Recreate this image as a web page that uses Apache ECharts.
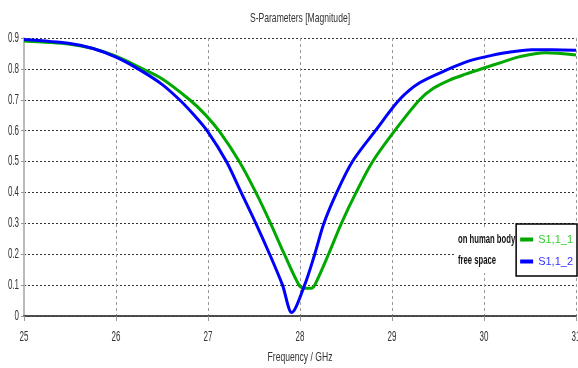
<!DOCTYPE html>
<html>
<head>
<meta charset="utf-8">
<script src="https://cdn.jsdelivr.net/npm/echarts@6/dist/echarts.min.js"></script>
<style>html,body{margin:0;padding:0;background:#fff}#c{width:578px;height:368px}</style>
</head>
<body>
<div id="c"></div>
<script>
const xTicks = [25, 26, 27, 28, 29, 30, 31];
const yTicks = [0, 0.1, 0.2, 0.3, 0.4, 0.5, 0.6, 0.7, 0.8, 0.9];
const titleText = 'S-Parameters [Magnitude]';
const xAxisName = 'Frequency / GHz';
const seriesNames = ['S1,1_1', 'S1,1_2'];
const seriesLabels = ['on human body', 'free space'];
const freqBody = [25.0,25.5,25.75,26.0,26.29,26.5,26.8,26.97,27.13,27.34,27.52,27.68,27.83,27.99,28.05,28.12,28.16,28.31,28.45,28.61,28.79,29.03,29.3,29.45,29.62,29.8,30.0,30.2,30.38,30.67,31.0];
const s11Body  = [0.89,0.88,0.866,0.841,0.80,0.768,0.70,0.652,0.595,0.50,0.40,0.30,0.20,0.10,0.09,0.09,0.10,0.20,0.30,0.40,0.50,0.60,0.70,0.737,0.763,0.783,0.803,0.822,0.839,0.852,0.845];
const freqFree = [25.0,25.5,25.75,26.0,26.24,26.5,26.69,26.85,26.99,27.2,27.36,27.52,27.67,27.81,27.91,28.05,28.16,28.26,28.40,28.57,28.82,29.08,29.3,29.62,29.8,30.0,30.25,30.52,30.75,31.0];
const s11Free  = [0.895,0.882,0.866,0.838,0.80,0.75,0.70,0.65,0.60,0.50,0.40,0.30,0.20,0.10,0.011,0.10,0.20,0.30,0.40,0.50,0.60,0.70,0.755,0.80,0.822,0.838,0.853,0.862,0.862,0.86];
const colors = ['#00A800', '#0000FF'];
const legendTextColors = ['#33CC33', '#3333FF'];

const FAM = "'Liberation Sans', Arial, sans-serif";
const chart = echarts.init(document.getElementById('c'));
const pairs = (xs, ys) => xs.map((x, i) => [x, ys[i]]);
chart.setOption({
  animation: false,
  backgroundColor: '#fff',
  grid: { left: 24, right: 2, top: 38, bottom: 52, outerBoundsMode: 'none' },
  xAxis: [{
    type: 'value', min: xTicks[0], max: xTicks[xTicks.length - 1], interval: 1,
    axisLine: { onZero: false, lineStyle: { color: '#000', width: 1.5 } },
    axisTick: { show: true, length: 5, lineStyle: { color: '#999' } },
    axisLabel: { show: false },
    splitLine: { show: true, lineStyle: { color: '#999', type: [3, 3], width: 1 } }
  }, {
    type: 'value', position: 'top', min: xTicks[0], max: xTicks[xTicks.length - 1],
    axisLine: { lineStyle: { color: '#555', width: 1.5 } },
    axisTick: { show: false }, axisLabel: { show: false }, splitLine: { show: false }
  }],
  yAxis: {
    type: 'value', min: yTicks[0], max: yTicks[yTicks.length - 1], interval: 0.1,
    axisLine: { show: true, lineStyle: { color: '#bbb', width: 2 } },
    axisTick: { show: true, length: 3, lineStyle: { color: '#999' } },
    axisLabel: { show: false },
    splitLine: { show: true, lineStyle: { color: '#333', type: [2, 2], width: 1 } }
  },
  legend: {
    orient: 'vertical', right: 1, top: 224,
    data: seriesNames.map((n, i) => ({ name: n, textStyle: { color: legendTextColors[i] } })),
    icon: 'rect', itemWidth: 13, itemHeight: 4, itemGap: 11,
    padding: [10, 4, 9, 4], backgroundColor: '#fff',
    borderColor: '#000', borderWidth: 1.5,
    textStyle: { fontFamily: FAM, fontSize: 11 }
  },
  series: [
    { name: seriesNames[0], type: 'line', data: pairs(freqBody, s11Body), smooth: 0.3,
      showSymbol: false, lineStyle: { color: colors[0], width: 3 }, itemStyle: { color: colors[0] } },
    { name: seriesNames[1], type: 'line', data: pairs(freqFree, s11Free), smooth: 0.3,
      showSymbol: false, lineStyle: { color: colors[1], width: 3 }, itemStyle: { color: colors[1] } }
  ]
});

// Narrow (horizontally squeezed) texts, positioned through the chart's own axes
const g = [];
const cx = chart.convertToPixel({ xAxisIndex: 0 }, (xTicks[0] + xTicks[xTicks.length - 1]) / 2);
g.push({ type: 'text', x: cx, y: 18, scaleX: 0.66,
  style: { text: titleText, font: '13px ' + FAM, fill: '#333', align: 'center', verticalAlign: 'middle' } });
g.push({ type: 'text', x: cx, y: 357, scaleX: 0.66,
  style: { text: xAxisName, font: '13px ' + FAM, fill: '#333', align: 'center', verticalAlign: 'middle' } });
const y0 = chart.convertToPixel({ yAxisIndex: 0 }, yTicks[0]);
xTicks.forEach(v => {
  g.push({ type: 'text', x: chart.convertToPixel({ xAxisIndex: 0 }, v), y: y0 + 21, scaleX: 0.57,
    style: { text: String(v), font: '14px ' + FAM, fill: '#333', align: 'center', verticalAlign: 'middle' } });
});
const x0 = chart.convertToPixel({ xAxisIndex: 0 }, xTicks[0]);
yTicks.forEach(v => {
  g.push({ type: 'text', x: x0 - 5, y: chart.convertToPixel({ yAxisIndex: 0 }, v), scaleX: 0.57,
    style: { text: String(v), font: '14px ' + FAM, fill: '#333', align: 'right', verticalAlign: 'middle' } });
});
g.push({ type: 'rect', shape: { x: 456, y: 229, width: 59, height: 44 }, style: { fill: '#fff' }, z: 5 });
g.push({ type: 'text', x: 458, y: 240, scaleX: 0.64, z: 6,
  style: { text: seriesLabels[0], font: 'bold 12px ' + FAM, fill: '#111', verticalAlign: 'middle' } });
g.push({ type: 'text', x: 458, y: 261, scaleX: 0.64, z: 6,
  style: { text: seriesLabels[1], font: 'bold 12px ' + FAM, fill: '#111', verticalAlign: 'middle' } });
chart.setOption({ graphic: g });
</script>
</body>
</html>
